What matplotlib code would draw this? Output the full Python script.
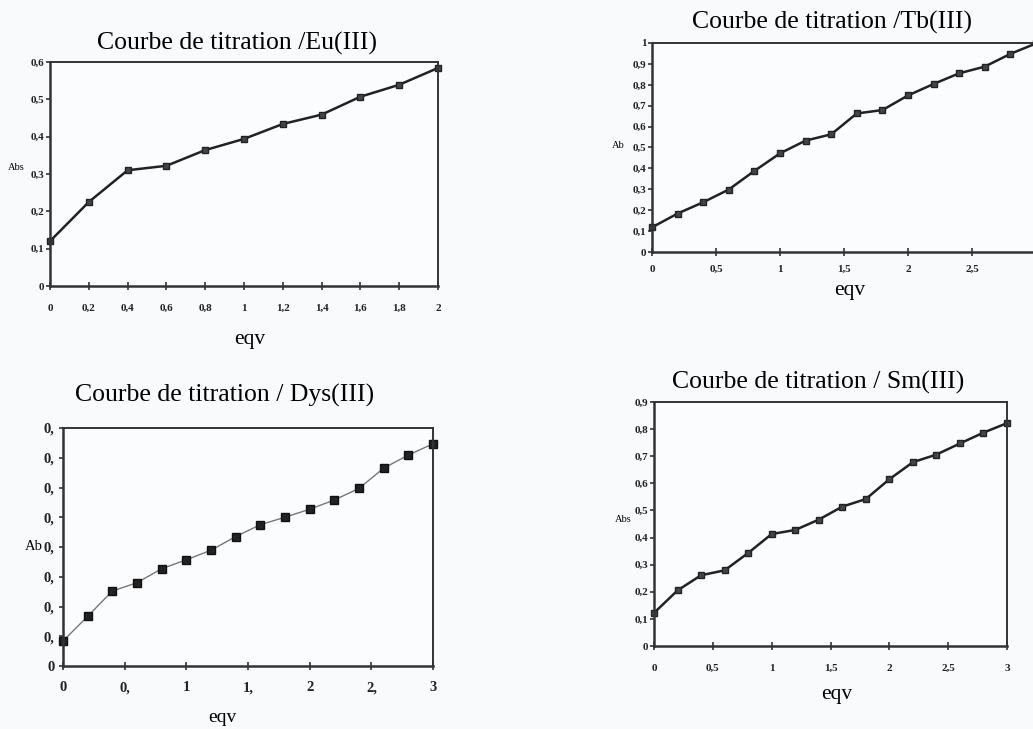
import matplotlib
matplotlib.use("Agg")
import matplotlib.pyplot as plt
import numpy as np

# ---- data ----
eu_x = [0, 0.2, 0.4, 0.6, 0.8, 1.0, 1.2, 1.4, 1.6, 1.8, 2.0]
eu_y = [0.12, 0.225, 0.31, 0.322, 0.364, 0.394, 0.434, 0.459, 0.507, 0.539, 0.584]

tb_x = [0, 0.2, 0.4, 0.6, 0.8, 1.0, 1.2, 1.4, 1.6, 1.8, 2.0, 2.2, 2.4, 2.6, 2.8, 3.0]
tb_y = [0.118, 0.184, 0.238, 0.299, 0.388, 0.472, 0.533, 0.563, 0.663, 0.679,
        0.749, 0.804, 0.855, 0.887, 0.948, 0.998]

dy_x = [0, 0.2, 0.4, 0.6, 0.8, 1.0, 1.2, 1.4, 1.6, 1.8, 2.0, 2.2, 2.4, 2.6, 2.8, 3.0]
dy_y = [0.084, 0.167, 0.252, 0.280, 0.327, 0.357, 0.389, 0.435, 0.475, 0.500,
        0.527, 0.558, 0.597, 0.665, 0.709, 0.747]

sm_x = [0, 0.2, 0.4, 0.6, 0.8, 1.0, 1.2, 1.4, 1.6, 1.8, 2.0, 2.2, 2.4, 2.6, 2.8, 3.0]
sm_y = [0.122, 0.205, 0.261, 0.279, 0.343, 0.413, 0.428, 0.466, 0.514, 0.542,
        0.615, 0.678, 0.706, 0.747, 0.787, 0.822]

eu_xticks = [0, 0.2, 0.4, 0.6, 0.8, 1, 1.2, 1.4, 1.6, 1.8, 2]
eu_xlabels = ["0", "0,2", "0,4", "0,6", "0,8", "1", "1,2", "1,4", "1,6", "1,8", "2"]
eu_yticks = [0, 0.1, 0.2, 0.3, 0.4, 0.5, 0.6]
eu_ylabels = ["0", "0,1", "0,2", "0,3", "0,4", "0,5", "0,6"]

tb_xticks = [0, 0.5, 1, 1.5, 2, 2.5, 3]
tb_xlabels = ["0", "0,5", "1", "1,5", "2", "2,5", "3"]
tb_yticks = [0, 0.1, 0.2, 0.3, 0.4, 0.5, 0.6, 0.7, 0.8, 0.9, 1.0]
tb_ylabels = ["0", "0,1", "0,2", "0,3", "0,4", "0,5", "0,6", "0,7", "0,8", "0,9", "1"]

dy_xticks = [0, 0.5, 1, 1.5, 2, 2.5, 3]
dy_xlabels = ["0", "0,", "1", "1,", "2", "2,", "3"]
dy_yticks = [0, 0.1, 0.2, 0.3, 0.4, 0.5, 0.6, 0.7, 0.8]
dy_ylabels = ["0", "0,", "0,", "0,", "0,", "0,", "0,", "0,", "0,"]

sm_xticks = [0, 0.5, 1, 1.5, 2, 2.5, 3]
sm_xlabels = ["0", "0,5", "1", "1,5", "2", "2,5", "3"]
sm_yticks = [0, 0.1, 0.2, 0.3, 0.4, 0.5, 0.6, 0.7, 0.8, 0.9]
sm_ylabels = ["0", "0,1", "0,2", "0,3", "0,4", "0,5", "0,6", "0,7", "0,8", "0,9"]

titles = ["Courbe de titration /Eu(III)", "Courbe de titration /Tb(III)",
          "Courbe de titration / Dys(III)", "Courbe de titration / Sm(III)"]

W, H = 1033, 729
fig = plt.figure(figsize=(W / 100, H / 100), dpi=100)
fig.patch.set_facecolor("#f9fafb")
SERIF = ["Liberation Serif", "DejaVu Serif"]
plt.rcParams["font.family"] = SERIF
TFS = 18.5
XFS = 15.5

def axes_px(l, t, r, b):
    return fig.add_axes([l / W, 1 - b / H, (r - l) / W, (b - t) / H])

def style(ax, xt, xl, yt, yl, xlim, ylim, fs=8):
    ax.set_facecolor("#fbfcfd")
    ax.set_xlim(*xlim)
    ax.set_ylim(*ylim)
    ax.set_xticks(xt)
    ax.set_xticklabels(xl, fontsize=fs, fontweight="bold", color="#222")
    ax.set_yticks(yt)
    ax.set_yticklabels(yl, fontsize=fs, fontweight="bold", color="#222")
    ax.tick_params(axis="x", direction="inout", length=6, width=1.2, pad=6, color="#333")
    ax.tick_params(axis="y", direction="out", length=3, width=1.2, pad=1, color="#333")
    for s in ax.spines.values():
        s.set_color("#333")
        s.set_linewidth(1.4)
    for s in ("left", "bottom"):
        ax.spines[s].set_linewidth(1.8)
    for lab in ax.get_xticklabels() + ax.get_yticklabels():
        lab.set_clip_on(False)

# Eu
ax1 = axes_px(50, 62, 438, 286)
ax1.plot(eu_x, eu_y, color="#222", lw=1.8, marker="s", ms=5, mfc="#444", mec="#222", clip_on=False)
style(ax1, eu_xticks, eu_xlabels, eu_yticks, eu_ylabels, (0, 2), (0, 0.6))
ax1.tick_params(axis="x", pad=10)
fig.text(237 / W, 1 - 43 / H, titles[0], ha="center", va="center", fontsize=TFS)
fig.text(250 / W, 1 - 340 / H, "eqv", ha="center", va="center", fontsize=XFS)
fig.text(8 / W, 1 - 168 / H, "Abs", ha="left", va="center", fontsize=7.5)

# Tb
ax2 = axes_px(652, 43, 1036, 252)
ax2.plot(tb_x, tb_y, color="#222", lw=1.8, marker="s", ms=5, mfc="#444", mec="#222", clip_on=False)
style(ax2, tb_xticks, tb_xlabels, tb_yticks, tb_ylabels, (0, 3), (0, 1.0))
fig.text(832 / W, 1 - 22 / H, titles[1], ha="center", va="center", fontsize=TFS)
fig.text(850 / W, 1 - 290 / H, "eqv", ha="center", va="center", fontsize=XFS)
fig.text(612 / W, 1 - 145 / H, "Ab", ha="left", va="center", fontsize=7.5)

# Dys
ax3 = axes_px(63, 428, 433, 666)
ax3.plot(dy_x, dy_y, color="#777", lw=1.0, marker="s", ms=5.5, mfc="#222", mec="#111", clip_on=False)
style(ax3, dy_xticks, dy_xlabels, dy_yticks, dy_ylabels, (0, 3), (0, 0.8), fs=10.5)
ax3.tick_params(axis="x", pad=8)
ax3.tick_params(axis="y", pad=3)
fig.text(225 / W, 1 - 395 / H, titles[2], ha="center", va="center", fontsize=TFS)
fig.text(222 / W, 1 - 718 / H, "eqv", ha="center", va="center", fontsize=14)
fig.text(25 / W, 1 - 547 / H, "Ab", ha="left", va="center", fontsize=10.5)

# Sm
ax4 = axes_px(654, 402, 1007, 646)
ax4.plot(sm_x, sm_y, color="#222", lw=1.8, marker="s", ms=5, mfc="#444", mec="#222", clip_on=False)
style(ax4, sm_xticks, sm_xlabels, sm_yticks, sm_ylabels, (0, 3), (0, 0.9))
ax4.tick_params(axis="x", pad=10)
fig.text(818 / W, 1 - 382 / H, titles[3], ha="center", va="center", fontsize=TFS)
fig.text(837 / W, 1 - 695 / H, "eqv", ha="center", va="center", fontsize=XFS)
fig.text(615 / W, 1 - 520 / H, "Abs", ha="left", va="center", fontsize=7.5)

fig.savefig("out.png", dpi=100, facecolor=fig.get_facecolor())
